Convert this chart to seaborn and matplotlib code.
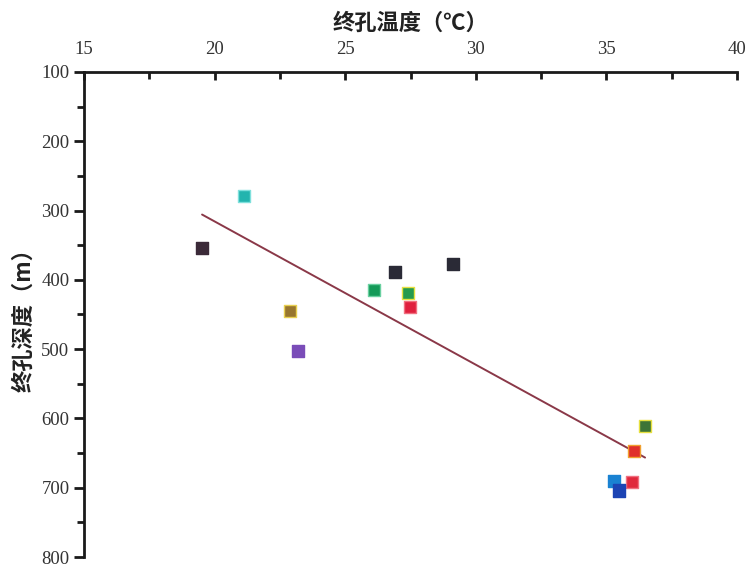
import numpy as np
import pandas as pd
import seaborn as sns
import matplotlib.pyplot as plt
from matplotlib.ticker import MultipleLocator

# data
temp = [19.52, 21.13, 22.89, 23.19, 26.1, 26.91, 27.4, 27.48, 29.13, 36.48, 36.06, 35.98, 35.29, 35.48]
depth = [354, 279, 445, 503, 415, 389, 419, 439, 377, 611, 647, 692, 690, 704]
face_colors = ['#3b2a38', '#22b4ae', '#98762e', '#7a4cb8', '#149a58', '#2a2a36', '#259a4e',
               '#e0203e', '#2a2a36', '#3d7436', '#e0302c', '#e0283c', '#1a82d2', '#1c44b4']
edge_colors = ['#3b2a38', '#7fe0dc', '#e8d050', '#7a4cb8', '#6ad0a0', '#2a2a36', '#e6e040',
               '#f07080', '#2a2a36', '#e6e040', '#f0a030', '#f07080', '#1a82d2', '#1c44b4']

frame = pd.DataFrame({'temp': temp, 'depth': depth, 'id': range(len(temp))})

sns.set_style('white')
plt.rcParams['font.family'] = ['Liberation Serif', 'Noto Sans CJK SC', 'DejaVu Sans']

fig = plt.figure(figsize=(7.48, 5.70), dpi=100)
ax = fig.add_axes([0.1123, 0.0228, 0.873, 0.8509])

sns.regplot(x='temp', y='depth', data=frame, ax=ax, scatter=False, ci=None,
            line_kws={'color': '#8a3848', 'lw': 1.4})
sns.scatterplot(x='temp', y='depth', data=frame, hue='id', palette=face_colors, legend=False,
                marker='s', s=75, ax=ax, edgecolor=edge_colors, linewidth=1.0, zorder=3)

ax.set_xlim(15, 40)
ax.set_ylim(800, 100)
ax.xaxis.set_major_locator(MultipleLocator(5))
ax.xaxis.set_minor_locator(MultipleLocator(2.5))
ax.yaxis.set_major_locator(MultipleLocator(100))
ax.yaxis.set_minor_locator(MultipleLocator(50))
ax.xaxis.tick_top()
ax.xaxis.set_label_position('top')

for s in ['right', 'bottom']:
    ax.spines[s].set_visible(False)
for s in ['top', 'left']:
    ax.spines[s].set_linewidth(2)
    ax.spines[s].set_color('#1a1a1a')

ax.tick_params(axis='x', which='both', direction='in', top=True, bottom=False,
               labelsize=13.5, labelcolor='#333333', color='#1a1a1a', pad=10)
ax.tick_params(axis='x', which='major', length=6, width=2)
ax.tick_params(axis='x', which='minor', length=5, width=2)
ax.tick_params(axis='y', which='both', direction='out', left=True,
               labelsize=13.5, labelcolor='#333333', color='#1a1a1a')
ax.tick_params(axis='y', which='major', length=7, width=2)
ax.tick_params(axis='y', which='minor', length=5, width=2)

ax.set_xlabel('终孔温度（℃）', fontsize=16, fontweight='bold', color='#222222',
              family=['Noto Sans CJK SC', 'DejaVu Sans'], labelpad=8)
ax.set_ylabel('终孔深度（m）', fontsize=16, fontweight='bold', color='#222222',
              family=['Noto Sans CJK SC', 'DejaVu Sans'], labelpad=4)

plt.savefig('out.png', dpi=100)
